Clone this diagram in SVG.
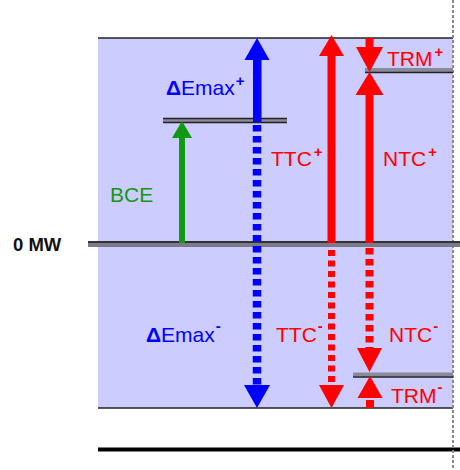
<svg xmlns="http://www.w3.org/2000/svg" width="460" height="470" viewBox="0 0 460 470">
<style>
.lbl{font-family:"Liberation Sans",Arial,sans-serif;font-size:21px}
.sp{font-size:15px;font-weight:bold}
.red{fill:#ff0000}
.blue{fill:#0000ff}
.green{fill:#119911}
.lvl{stroke:#222;stroke-width:1.5}
</style>
<rect width="460" height="470" fill="#ffffff"/>
<g id="band">
<rect x="98" y="38" width="355" height="370" fill="#ccccff"/>
<line class="lvl" x1="98" y1="38" x2="453" y2="38"/>
<line class="lvl" x1="98" y1="408" x2="453" y2="408"/>
<line x1="98" y1="449.5" x2="460" y2="449.5" stroke="#000" stroke-width="4"/>
<line x1="453" y1="0" x2="453" y2="470" stroke="#8a8a8a" stroke-width="2" stroke-dasharray="3,2"/>
</g>
<g id="zero">
<rect x="88" y="241" width="372" height="6" fill="#7a7a8a"/>
<line x1="88" y1="242" x2="460" y2="242" stroke="#333" stroke-width="2"/>
<text x="13" y="251" font-family="Liberation Sans,Arial,sans-serif" font-size="18.5" font-weight="bold" fill="#111">0 MW</text>
</g>
<g id="bce-level">
<rect x="163" y="118" width="124" height="5" fill="#8a8a9a"/>
<line class="lvl" x1="163" y1="118.5" x2="287" y2="118.5"/>
<line class="lvl" x1="163" y1="122.5" x2="287" y2="122.5"/>
</g>
<g id="trm-plus-level">
<rect x="365" y="68" width="88" height="4" fill="#8a8a9a"/>
<line class="lvl" x1="365" y1="72.5" x2="453" y2="72.5"/>
</g>
<g id="trm-minus-level">
<rect x="353" y="372.5" width="100" height="4" fill="#8a8a9a"/>
<line class="lvl" x1="353" y1="377" x2="453" y2="377"/>
</g>
<g id="connectors">
<!-- BCE -->
<rect x="179" y="136" width="6" height="107" fill="#119911"/>
<polygon points="182,121 192,138 172,138" fill="#119911"/>
<!-- Delta Emax -->
<rect x="253" y="58" width="8.5" height="64" fill="#0000ff"/>
<polygon points="257,38 269.5,60 244.5,60" fill="#0000ff"/>
<line x1="257" y1="125" x2="257" y2="386" stroke="#0000ff" stroke-width="8.5" stroke-dasharray="6.5,4.5"/>
<polygon points="257,408 270,385 244,385" fill="#0000ff"/>
<!-- TTC -->
<rect x="327.5" y="54" width="8" height="189" fill="#ff0000"/>
<polygon points="331.5,35 344,56 319,56" fill="#ff0000"/>
<line x1="331.5" y1="250" x2="331.5" y2="386" stroke="#ff0000" stroke-width="7" stroke-dasharray="6,4.5"/>
<polygon points="331.5,408 344,385 319,385" fill="#ff0000"/>
<!-- NTC / TRM+ -->
<rect x="365.5" y="38" width="8" height="11" fill="#ff0000"/>
<polygon points="369.5,72 383,47 356,47" fill="#ff0000"/>
<polygon points="369.5,72 383.5,95 355.5,95" fill="#ff0000"/>
<rect x="365.5" y="93" width="8" height="150" fill="#ff0000"/>
<line x1="369.5" y1="248" x2="369.5" y2="349" stroke="#ff0000" stroke-width="8" stroke-dasharray="6.5,4.5"/>
<polygon points="369.5,372 382,348 357,348" fill="#ff0000"/>
<polygon points="370,376 382.5,398 357.5,398" fill="#ff0000"/>
<rect x="366" y="400" width="8" height="8" fill="#ff0000"/>
</g>
<g id="labels">
<text class="lbl blue" x="166" y="95"><tspan font-weight="bold">Δ</tspan>Emax<tspan class="sp" dx="1" dy="-9">+</tspan></text>
<text class="lbl green" x="110" y="202">BCE</text>
<text class="lbl red" x="271" y="166">TTC<tspan class="sp" dx="2" dy="-9">+</tspan></text>
<text class="lbl red" x="383" y="166">NTC<tspan class="sp" dx="2" dy="-9">+</tspan></text>
<text class="lbl red" x="387" y="66">TRM<tspan class="sp" dx="2" dy="-9">+</tspan></text>
<text class="lbl blue" x="146" y="342"><tspan font-weight="bold">Δ</tspan>Emax<tspan class="sp" dx="1" dy="-11">-</tspan></text>
<text class="lbl red" x="276" y="342">TTC<tspan class="sp" dx="1" dy="-11">-</tspan></text>
<text class="lbl red" x="389" y="342">NTC<tspan class="sp" dx="1" dy="-11">-</tspan></text>
<text class="lbl red" x="391" y="403">TRM<tspan class="sp" dx="1" dy="-11">-</tspan></text>
</g>
</svg>
